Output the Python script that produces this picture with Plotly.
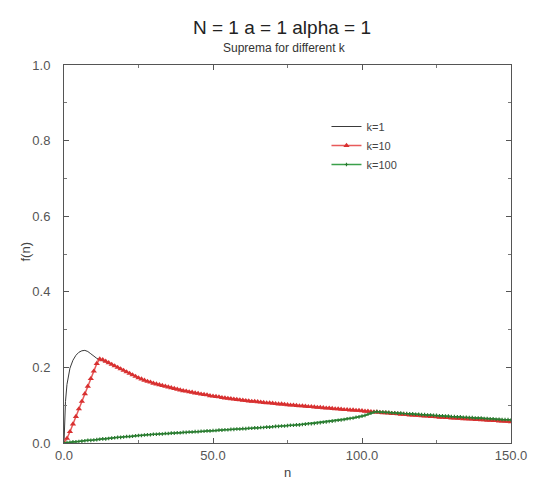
import plotly.graph_objects as go

# ---- data ----
n_vals = list(range(151))

k1_n = [0, 0.25, 0.5, 1, 1.5, 2, 3, 4, 5, 6, 7, 8, 9, 10, 11, 12, 15, 20, 25, 30, 40, 50,
        60, 70, 80, 90, 100, 110, 120, 130, 140, 150]
k1_f = [0.0, 0.07, 0.11, 0.155, 0.18, 0.198, 0.219, 0.232, 0.240, 0.244, 0.245, 0.242,
        0.236, 0.229, 0.224, 0.220, 0.212, 0.192, 0.172, 0.158, 0.138, 0.124,
        0.113, 0.105, 0.098, 0.091, 0.085, 0.078, 0.072, 0.066, 0.061, 0.056]

k10_f = [
    0.000, 0.012, 0.030, 0.050, 0.070, 0.090, 0.110, 0.130, 0.150, 0.170,
    0.190, 0.210, 0.222, 0.220, 0.216, 0.212, 0.208, 0.204, 0.200, 0.196,
    0.192, 0.188, 0.184, 0.180, 0.176, 0.172, 0.169, 0.166, 0.163, 0.161,
    0.158, 0.156, 0.154, 0.152, 0.150, 0.148, 0.146, 0.144, 0.142, 0.140,
    0.138, 0.137, 0.135, 0.134, 0.132, 0.131, 0.129, 0.128, 0.127, 0.125,
    0.124, 0.123, 0.122, 0.120, 0.119, 0.118, 0.117, 0.116, 0.115, 0.114,
    0.113, 0.112, 0.111, 0.110, 0.110, 0.109, 0.108, 0.107, 0.106, 0.106,
    0.105, 0.104, 0.103, 0.103, 0.102, 0.101, 0.100, 0.100, 0.099, 0.098,
    0.098, 0.097, 0.096, 0.096, 0.095, 0.094, 0.094, 0.093, 0.092, 0.092,
    0.091, 0.090, 0.090, 0.089, 0.088, 0.088, 0.087, 0.087, 0.086, 0.086,
    0.085, 0.084, 0.084, 0.083, 0.082, 0.082, 0.081, 0.080, 0.080, 0.079,
    0.078, 0.078, 0.077, 0.076, 0.076, 0.075, 0.074, 0.074, 0.073, 0.073,
    0.072, 0.071, 0.071, 0.070, 0.070, 0.069, 0.068, 0.068, 0.067, 0.067,
    0.066, 0.066, 0.065, 0.065, 0.064, 0.064, 0.063, 0.063, 0.062, 0.062,
    0.061, 0.061, 0.060, 0.060, 0.059, 0.059, 0.058, 0.058, 0.057, 0.057,
    0.056]

k100_f = [
    0.000, 0.001, 0.002, 0.003, 0.003, 0.004, 0.005, 0.006, 0.007, 0.007,
    0.008, 0.009, 0.010, 0.011, 0.011, 0.012, 0.013, 0.014, 0.015, 0.015,
    0.016, 0.017, 0.017, 0.018, 0.019, 0.020, 0.020, 0.021, 0.022, 0.022,
    0.023, 0.023, 0.024, 0.024, 0.025, 0.025, 0.026, 0.026, 0.027, 0.027,
    0.028, 0.028, 0.029, 0.029, 0.030, 0.030, 0.031, 0.031, 0.032, 0.032,
    0.033, 0.033, 0.034, 0.034, 0.035, 0.035, 0.036, 0.036, 0.037, 0.037,
    0.038, 0.038, 0.039, 0.039, 0.040, 0.040, 0.041, 0.041, 0.042, 0.042,
    0.043, 0.044, 0.044, 0.045, 0.045, 0.046, 0.047, 0.047, 0.048, 0.048,
    0.049, 0.050, 0.051, 0.051, 0.052, 0.053, 0.054, 0.055, 0.056, 0.057,
    0.058, 0.059, 0.060, 0.061, 0.062, 0.064, 0.065, 0.066, 0.068, 0.069,
    0.071, 0.073, 0.076, 0.079, 0.082, 0.083, 0.082, 0.082, 0.081, 0.081,
    0.080, 0.080, 0.079, 0.079, 0.078, 0.078, 0.077, 0.077, 0.076, 0.076,
    0.075, 0.075, 0.074, 0.074, 0.073, 0.073, 0.072, 0.072, 0.071, 0.071,
    0.070, 0.070, 0.069, 0.069, 0.068, 0.068, 0.067, 0.067, 0.066, 0.066,
    0.066, 0.065, 0.065, 0.064, 0.064, 0.063, 0.063, 0.062, 0.062, 0.062,
    0.061]

x_ticks = [0, 50, 100, 150]
y_ticks = [0.0, 0.2, 0.4, 0.6, 0.8, 1.0]

FONT = "Liberation Sans, Arial, sans-serif"

W, H = 539, 484
L, R, T, B = 64, 22, 65, 41
PW, PH = W - L - R, H - T - B

def px(xp):
    return (xp - L) / PW

def py(yp):
    return (H - B - yp) / PH

fig = go.Figure()
fig.add_trace(go.Scatter(x=k1_n, y=k1_f, mode="lines", name="k=1",
                         line=dict(color="#3a3a3a", width=1)))
fig.add_trace(go.Scatter(x=n_vals, y=k10_f, mode="lines+markers", name="k=10",
                         line=dict(color="#e85a5a", width=1.5),
                         marker=dict(symbol="triangle-up", size=5.5, color="#d83030",
                                     line=dict(width=0))))
fig.add_trace(go.Scatter(x=n_vals, y=k100_f, mode="lines+markers", name="k=100",
                         line=dict(color="#3aa04a", width=1.5),
                         marker=dict(symbol="cross", size=3, color="#2a7a30",
                                     line=dict(width=0))))

axis_common = dict(showline=True, linecolor="#555", linewidth=1, mirror="allticks",
                   ticks="inside", ticklen=5, tickcolor="#555", showgrid=False,
                   zeroline=False, tickfont=dict(family=FONT, size=13, color="#555"),
                   tickformat=".1f")

fig.update_xaxes(range=[0, 150], tickvals=x_ticks,
                 minor=dict(ticks="inside", ticklen=3, dtick=25, tickcolor="#777"),
                 **axis_common)
fig.update_yaxes(range=[0, 1], tickvals=y_ticks, ticklabelstandoff=10,
                 minor=dict(ticks="inside", ticklen=3, dtick=0.1, tickcolor="#777"),
                 **axis_common)

fig.update_layout(
    width=W, height=H,
    margin=dict(l=L, r=R, t=T, b=B),
    plot_bgcolor="white", paper_bgcolor="white",
    font=dict(family=FONT, color="#333"),
    showlegend=True,
    legend=dict(x=px(330), y=py(112), xanchor="left", yanchor="top",
                bgcolor="rgba(0,0,0,0)", font=dict(size=11, color="#444"),
                tracegroupgap=0),
    annotations=[
        dict(text="N = 1 a = 1 alpha = 1", x=px(285), y=py(27), xref="paper", yref="paper",
             xanchor="center", yanchor="middle",
             showarrow=False, font=dict(size=19, color="#222")),
        dict(text="Suprema for different k", x=px(287), y=py(48), xref="paper", yref="paper",
             xanchor="center", yanchor="middle",
             showarrow=False, font=dict(size=12, color="#333")),
        dict(text="n", x=px(290), y=py(472), xref="paper", yref="paper",
             xanchor="center", yanchor="middle", showarrow=False,
             font=dict(size=13, color="#444")),
        dict(text="f(n)", x=px(25), y=py(252), xref="paper", yref="paper", textangle=-90,
             xanchor="center", yanchor="middle",
             showarrow=False, font=dict(size=13, color="#444")),
    ],
)

fig.write_html("out.html")
